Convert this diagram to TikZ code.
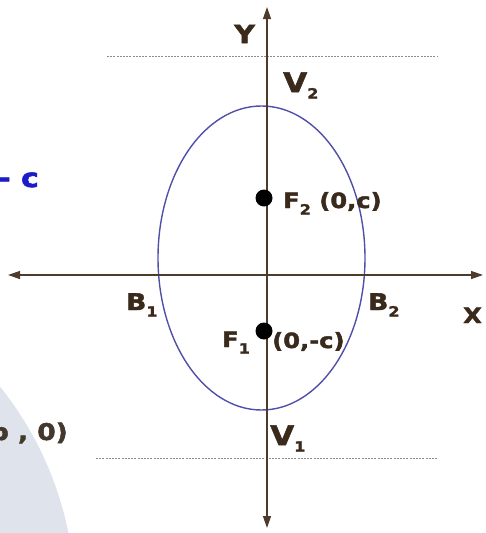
\documentclass[tikz,border=0pt]{standalone}
\usepackage{fontspec}
\setmainfont{DejaVu Sans}
\newfontfamily\lblfont{DejaVu Sans Bold}[FakeStretch=1.15,FakeBold=2]
\usetikzlibrary{arrows.meta,shapes.geometric}
\definecolor{txtcol}{HTML}{3A2A1C}
\definecolor{axiscol}{HTML}{4D3B2B}
\definecolor{ellcol}{HTML}{5050A8}
\definecolor{guidecol}{HTML}{8C8C8C}
\definecolor{bluecol}{HTML}{1C1CC8}
\definecolor{wmcol}{HTML}{DFE3EC}
\newcommand\dsub[1]{\raisebox{-6.5pt}{\fontsize{14}{14}\selectfont #1}}
\begin{document}
\begin{tikzpicture}[x=1pt,y=-1pt,
  axisline/.style={draw=axiscol, line width=1.3pt,
    {Triangle[length=12pt,width=8pt]}-{Triangle[length=12pt,width=8pt]}},
  guideline/.style={draw=guidecol, line width=0.9pt, dash pattern=on 2pt off 1.2pt},
  focusdot/.style={circle, fill=black, minimum size=17pt, inner sep=0pt},
  lbl/.style={anchor=base west, inner sep=0pt, text=txtcol, font=\lblfont\fontsize{#1}{#1}\selectfont},
  lbl/.default=23]
\useasboundingbox (0,0) rectangle (486,533);
% watermark
\begin{scope}
\clip (0,0) rectangle (486,533);
\fill[wmcol] (-266,600) circle [radius=341];
\end{scope}
% guide lines
\coordinate (gt1) at (107,56);
\coordinate (gt2) at (437,56);
\coordinate (gb1) at (96,458);
\coordinate (gb2) at (437,458);
\draw[guideline] (gt1) -- (gt2);
\draw[guideline] (gb1) -- (gb2);
% ellipse
\node[ellipse, draw=ellcol, line width=1.4pt, minimum width=207pt, minimum height=304pt, inner sep=0pt] (ell) at (261.5,258) {};
% axes
\coordinate (yt) at (267,7);
\coordinate (yb) at (267,528);
\coordinate (xl) at (8,275);
\coordinate (xr) at (483,275);
\draw[axisline] (yb) -- (yt);
\draw[axisline] (xl) -- (xr);
% foci
\node[focusdot] (f2) at (264,198) {};
\node[focusdot] (f1) at (264,331) {};
% labels
\node[lbl=25] (ylab) at (234,43) {Y};
\node[lbl=27] (v2) at (283,92) {V\dsub{2}};
\node[lbl=21] (f2lab) at (283,208) {F\dsub{2} (0,c)};
\node[lbl=23] (b1) at (126,310) {B\dsub{1}};
\node[lbl=23] (b2) at (368,310) {B\dsub{2}};
\node[lbl=21] (xlab) at (463,323) {X};
\node[lbl=21] (f1lab) at (222,347) {F\dsub{1}};
\node[lbl=21] (f1c) at (272,348) {(0,-c)};
\node[lbl=27] (v1) at (270,445) {V\dsub{1}};
\node[anchor=base east, inner sep=0pt, text=bluecol, font=\lblfont\fontsize{26}{26}\selectfont] (bluetxt) at (39,187) {- c};
\node[anchor=base east, inner sep=0pt, text=txtcol!85!gray, font=\lblfont\fontsize{23}{23}\selectfont] (btxt) at (68,440) {b , 0)};
\end{tikzpicture}
\end{document}
